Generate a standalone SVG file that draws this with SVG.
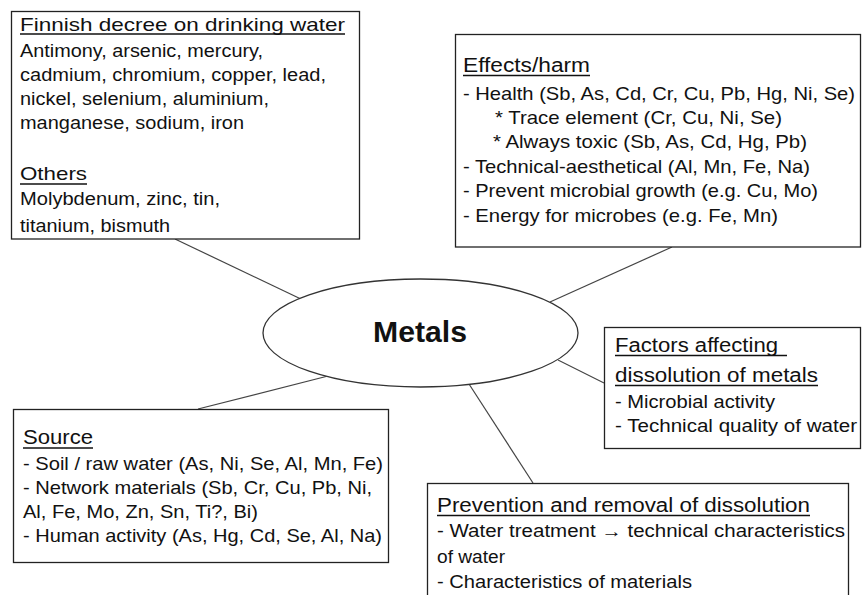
<svg xmlns="http://www.w3.org/2000/svg" width="862" height="595" viewBox="0 0 862 595">
<style>
  .box { fill: #ffffff; stroke: #222222; stroke-width: 1.3; }
  .ell { fill: #ffffff; stroke: #333333; stroke-width: 1.3; }
  .con { stroke: #444444; stroke-width: 1.2; fill: none; }
  .ul { stroke: #111111; stroke-width: 1.4; }
  text { font-family: "Liberation Sans", Arial, sans-serif; fill: #111111; }
  .t { font-size: 19.5px; }
  .b { font-size: 18.5px; }
  .b1 { font-size: 17.5px; }
  .t1 { font-size: 19px; }
  .main { font-size: 29px; font-weight: bold; }
</style>
<rect width="862" height="595" fill="#ffffff"/>
<g id="connectors">
  <line class="con" x1="175" y1="239" x2="303" y2="300"/>
  <line class="con" x1="672" y1="247" x2="550" y2="302"/>
  <line class="con" x1="558" y1="360" x2="604" y2="383"/>
  <line class="con" x1="198" y1="409" x2="328" y2="376"/>
  <line class="con" x1="469" y1="384" x2="533" y2="483"/>
</g>
<g id="metals">
  <ellipse class="ell" cx="420.5" cy="333" rx="157.5" ry="54"/>
  <text class="main" x="373" y="342" textLength="94" lengthAdjust="spacingAndGlyphs">Metals</text>
</g>
<g id="finnish">
  <rect class="box" x="11.5" y="11.5" width="348" height="227.5"/>
  <text class="t1" x="20" y="31" textLength="325" lengthAdjust="spacingAndGlyphs">Finnish decree on drinking water</text>
  <line class="ul" x1="20" y1="34" x2="345" y2="34"/>
  <text class="b1" x="20" y="57" textLength="243" lengthAdjust="spacingAndGlyphs">Antimony, arsenic, mercury,</text>
  <text class="b1" x="20" y="81" textLength="306" lengthAdjust="spacingAndGlyphs">cadmium, chromium, copper, lead,</text>
  <text class="b1" x="20" y="105" textLength="249" lengthAdjust="spacingAndGlyphs">nickel, selenium, aluminium,</text>
  <text class="b1" x="20" y="129" textLength="224" lengthAdjust="spacingAndGlyphs">manganese, sodium, iron</text>
  <text class="t1" x="20" y="180" textLength="67" lengthAdjust="spacingAndGlyphs">Others</text>
  <line class="ul" x1="20" y1="184" x2="87" y2="184"/>
  <text class="b1" x="20" y="205" textLength="200" lengthAdjust="spacingAndGlyphs">Molybdenum, zinc, tin,</text>
  <text class="b1" x="20" y="232" textLength="150" lengthAdjust="spacingAndGlyphs">titanium, bismuth</text>
</g>
<g id="effects">
  <rect class="box" x="455.5" y="34.5" width="405" height="212.5"/>
  <text class="t" x="463" y="72" textLength="127" lengthAdjust="spacingAndGlyphs">Effects/harm</text>
  <line class="ul" x1="463" y1="75.5" x2="590" y2="75.5"/>
  <text class="b" x="463" y="100" textLength="392" lengthAdjust="spacingAndGlyphs">- Health (Sb, As, Cd, Cr, Cu, Pb, Hg, Ni, Se)</text>
  <text class="b" x="495" y="124" textLength="287" lengthAdjust="spacingAndGlyphs">* Trace element (Cr, Cu, Ni, Se)</text>
  <text class="b" x="493" y="148" textLength="314" lengthAdjust="spacingAndGlyphs">* Always toxic (Sb, As, Cd, Hg, Pb)</text>
  <text class="b" x="463" y="173" textLength="347" lengthAdjust="spacingAndGlyphs">- Technical-aesthetical (Al, Mn, Fe, Na)</text>
  <text class="b" x="463" y="197" textLength="355" lengthAdjust="spacingAndGlyphs">- Prevent microbial growth (e.g. Cu, Mo)</text>
  <text class="b" x="463" y="222" textLength="315" lengthAdjust="spacingAndGlyphs">- Energy for microbes (e.g. Fe, Mn)</text>
</g>
<g id="factors">
  <rect class="box" x="604.5" y="327.5" width="256" height="121"/>
  <text class="t" x="615" y="352" textLength="163" lengthAdjust="spacingAndGlyphs">Factors affecting</text>
  <line class="ul" x1="615" y1="355.5" x2="787" y2="355.5"/>
  <text class="t" x="615" y="382" textLength="203" lengthAdjust="spacingAndGlyphs">dissolution of metals</text>
  <line class="ul" x1="615" y1="385.5" x2="818" y2="385.5"/>
  <text class="b1" x="615" y="408" textLength="160" lengthAdjust="spacingAndGlyphs">- Microbial activity</text>
  <text class="b1" x="615" y="432" textLength="242" lengthAdjust="spacingAndGlyphs">- Technical quality of water</text>
</g>
<g id="source">
  <rect class="box" x="13.5" y="409.5" width="375" height="153"/>
  <text class="t" x="23" y="444" textLength="70" lengthAdjust="spacingAndGlyphs">Source</text>
  <line class="ul" x1="23" y1="448" x2="93" y2="448"/>
  <text class="b" x="23" y="470" textLength="360" lengthAdjust="spacingAndGlyphs">- Soil / raw water (As, Ni, Se, Al, Mn, Fe)</text>
  <text class="b" x="23" y="494" textLength="349" lengthAdjust="spacingAndGlyphs">- Network materials (Sb, Cr, Cu, Pb, Ni,</text>
  <text class="b" x="23" y="518" textLength="235" lengthAdjust="spacingAndGlyphs">Al, Fe, Mo, Zn, Sn, Ti?, Bi)</text>
  <text class="b" x="23" y="542" textLength="359" lengthAdjust="spacingAndGlyphs">- Human activity (As, Hg, Cd, Se, Al, Na)</text>
</g>
<g id="prevention">
  <rect class="box" x="427.5" y="483.5" width="421" height="130"/>
  <text class="t" x="437" y="512" textLength="373" lengthAdjust="spacingAndGlyphs">Prevention and removal of dissolution</text>
  <line class="ul" x1="437" y1="515.5" x2="810" y2="515.5"/>
  <text class="b1" x="437" y="537" textLength="408" lengthAdjust="spacingAndGlyphs">- Water treatment → technical characteristics</text>
  <text class="b1" x="437" y="563" textLength="68" lengthAdjust="spacingAndGlyphs">of water</text>
  <text class="b1" x="437" y="588" textLength="255" lengthAdjust="spacingAndGlyphs">- Characteristics of materials</text>
</g>
</svg>
